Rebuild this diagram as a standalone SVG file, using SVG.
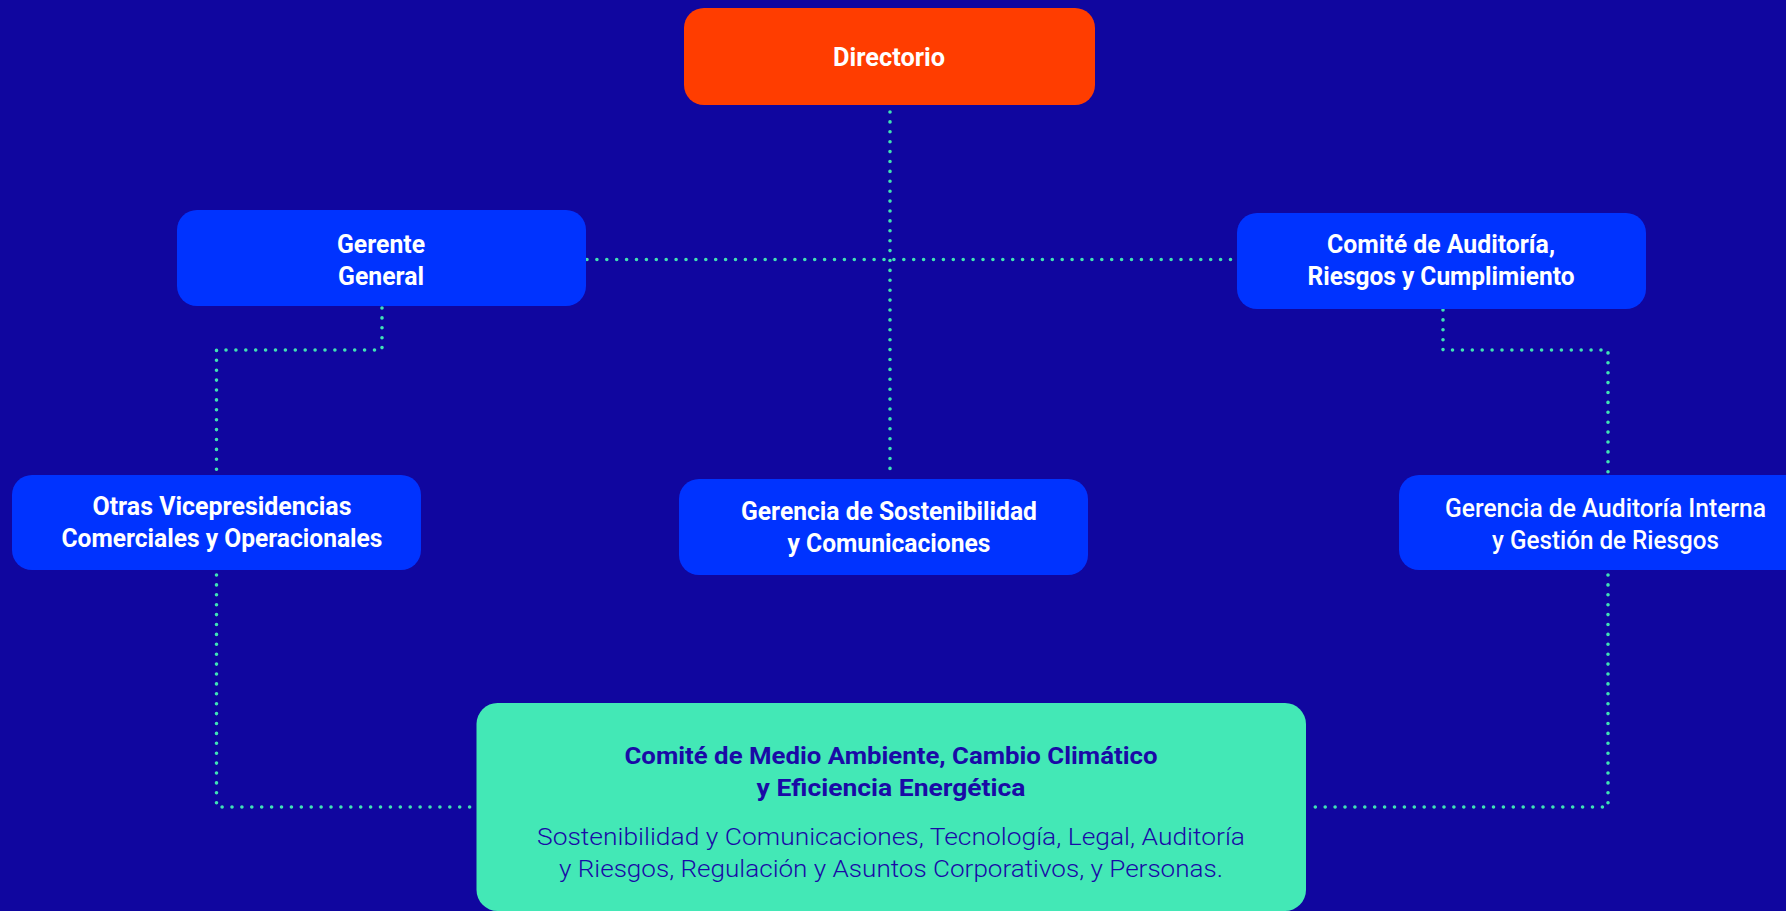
<svg xmlns="http://www.w3.org/2000/svg" width="1786" height="911" viewBox="0 0 1786 911">
  <style>
    .bg { fill: #10069F; }
    .board { fill: #FF3D00; }
    .unit { fill: #0033FF; }
    .committee { fill: #43E8B6; }
    .link { fill: none; stroke: #40E2B4; stroke-width: 3.6; stroke-linecap: round; stroke-dasharray: 0 9.9; }
    .lbl { font-family: Roboto, "Noto Sans", "Liberation Sans", sans-serif; font-weight: 700; font-size: 25px; fill: #FFFFFF; text-anchor: middle; }
    .lbl-m { font-weight: 500; }
    .ttl { font-family: Roboto, "Noto Sans", "Liberation Sans", sans-serif; font-weight: 700; font-size: 24px; fill: #1A0AA6; text-anchor: middle; }
    .body { font-family: Roboto, "Noto Sans", "Liberation Sans", sans-serif; font-weight: 300; font-size: 24px; fill: #1A0AA6; text-anchor: middle; }
  </style>

  <rect class="bg" x="0" y="0" width="1786" height="911"/>

  <!-- dotted reporting lines -->
  <g id="connectors">
    <path class="link" d="M890 112 V473"/>
    <path class="link" d="M587 259.5 H1236"/>
    <path class="link" d="M382 308 V350 H216.5 V472"/>
    <path class="link" d="M1443 310 V350 H1608 V472"/>
    <path class="link" d="M216.5 575 V807 H477"/>
    <path class="link" d="M1608 575 V807 H1306"/>
  </g>

  <g id="directorio">
    <rect class="board" x="684" y="8" width="411" height="97" rx="20"/>
    <text class="lbl" x="889" y="66" textLength="112" lengthAdjust="spacingAndGlyphs">Directorio</text>
  </g>

  <g id="gerente-general">
    <rect class="unit" x="177" y="210" width="409" height="96" rx="20"/>
    <text class="lbl" x="381" y="253" textLength="88" lengthAdjust="spacingAndGlyphs">Gerente</text>
    <text class="lbl" x="381" y="285" textLength="86" lengthAdjust="spacingAndGlyphs">General</text>
  </g>

  <g id="comite-auditoria">
    <rect class="unit" x="1237" y="213" width="409" height="96" rx="20"/>
    <text class="lbl" x="1441" y="253" textLength="228" lengthAdjust="spacingAndGlyphs">Comité de Auditoría,</text>
    <text class="lbl" x="1441" y="285" textLength="267" lengthAdjust="spacingAndGlyphs">Riesgos y Cumplimiento</text>
  </g>

  <g id="otras-vicepresidencias">
    <rect class="unit" x="12" y="475" width="409" height="95" rx="20"/>
    <text class="lbl" x="222" y="515" textLength="259" lengthAdjust="spacingAndGlyphs">Otras Vicepresidencias</text>
    <text class="lbl" x="222" y="547" textLength="321" lengthAdjust="spacingAndGlyphs">Comerciales y Operacionales</text>
  </g>

  <g id="gerencia-sostenibilidad">
    <rect class="unit" x="679" y="479" width="409" height="96" rx="20"/>
    <text class="lbl" x="889" y="520" textLength="296" lengthAdjust="spacingAndGlyphs">Gerencia de Sostenibilidad</text>
    <text class="lbl" x="889" y="552" textLength="203" lengthAdjust="spacingAndGlyphs">y Comunicaciones</text>
  </g>

  <g id="gerencia-auditoria">
    <rect class="unit" x="1399" y="475" width="420" height="95" rx="20"/>
    <text class="lbl lbl-m" x="1605.5" y="517" textLength="321" lengthAdjust="spacingAndGlyphs">Gerencia de Auditoría Interna</text>
    <text class="lbl lbl-m" x="1605.5" y="549" textLength="227" lengthAdjust="spacingAndGlyphs">y Gestión de Riesgos</text>
  </g>

  <g id="comite-medio-ambiente">
    <rect class="committee" x="476.5" y="703" width="829.5" height="208" rx="21"/>
    <text class="ttl" x="891" y="764" textLength="533" lengthAdjust="spacingAndGlyphs">Comité de Medio Ambiente, Cambio Climático</text>
    <text class="ttl" x="891" y="796" textLength="269" lengthAdjust="spacingAndGlyphs">y Eficiencia Energética</text>
    <text class="body" x="891" y="845" textLength="708" lengthAdjust="spacingAndGlyphs">Sostenibilidad y Comunicaciones, Tecnología, Legal, Auditoría</text>
    <text class="body" x="891" y="877" textLength="664" lengthAdjust="spacingAndGlyphs">y Riesgos, Regulación y Asuntos Corporativos, y Personas.</text>
  </g>
</svg>
